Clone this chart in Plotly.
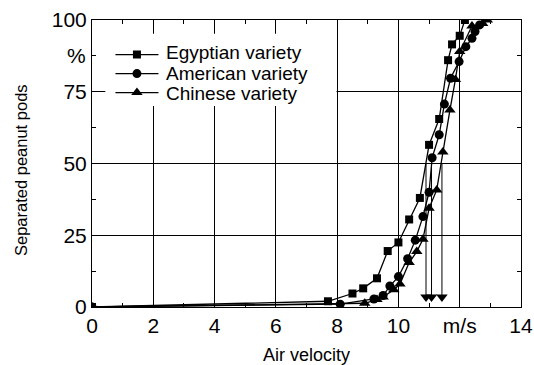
import plotly.graph_objects as go

# ---- data ----
egypt_x = [0, 7.7, 8.5, 8.85, 9.3, 9.65, 10.0, 10.35, 10.7, 11.0, 11.33, 11.62, 11.75, 12.0, 12.17]
egypt_y = [0, 2, 4.7, 6.5, 10, 19.5, 22.5, 30.5, 38, 56.5, 65.5, 86, 91.5, 94.5, 100]

amer_x = [0, 8.1, 9.2, 9.5, 9.72, 10.0, 10.3, 10.55, 10.8, 11.0, 11.1, 11.33, 11.5, 11.7, 11.98, 12.2, 12.4, 12.5, 12.65]
amer_y = [0, 1, 2.8, 4, 7.3, 10.6, 16.8, 23.3, 31.5, 40, 52, 60, 70.7, 79.7, 85.5, 90.7, 93.6, 96, 98.3]

chin_x = [0, 8.9, 9.3, 9.5, 9.85, 10.05, 10.35, 10.6, 10.8, 11.0, 11.25, 11.45, 11.68, 11.86, 12.0, 12.4, 12.75, 12.9]
chin_y = [0, 1.3, 2.6, 3.5, 6, 8, 15.5, 19.3, 23.6, 34.4, 40.8, 54, 68.6, 79.3, 89, 97.9, 98.8, 100]

series_names = ["Egyptian variety", "American variety", "Chinese variety"]

# velocities at 50 % separation (arrows)
median_x = [10.9, 11.08, 11.42]
median_level = 50
arrow_tip_y = 3.5

x_tickvals = [0, 2, 4, 6, 8, 10, 12, 14]
x_ticktext = ["0", "2", "4", "6", "8", "10", "m/s", "14"]
y_tickvals = [0, 25, 50, 75, 100]
y_ticktext = ["0", "25", "50", "75", "100"]
y_unit_pos = 87.5

FONT = "Liberation Sans, Arial, sans-serif"

fig = go.Figure()

symbols = ["square", "circle", "triangle-up"]
sizes = [8, 9, 10]
for xs, ys, name, sym, sz in zip([egypt_x, amer_x, chin_x], [egypt_y, amer_y, chin_y],
                                 series_names, symbols, sizes):
    fig.add_trace(go.Scatter(
        x=xs, y=ys, name=name, mode="lines+markers",
        line=dict(color="black", width=1.3),
        marker=dict(symbol=sym, size=sz, color="black"),
    ))

for mx in median_x:
    fig.add_trace(go.Scatter(
        x=[mx, mx], y=[median_level, arrow_tip_y], mode="lines",
        line=dict(color="black", width=1), showlegend=False, hoverinfo="skip"))
    fig.add_trace(go.Scatter(
        x=[mx], y=[arrow_tip_y], mode="markers",
        marker=dict(symbol="triangle-down", size=10, color="black"),
        showlegend=False, hoverinfo="skip"))

axis_common = dict(
    showline=True, linecolor="black", linewidth=1, mirror="allticks",
    ticks="inside", ticklen=5, tickcolor="black", tickwidth=1,
    showgrid=True, gridcolor="black", gridwidth=1, zeroline=False,
    tickfont=dict(family=FONT, size=21, color="black"), automargin=False,
)

fig.update_xaxes(
    range=[0, 14], tickmode="array", tickvals=x_tickvals, ticktext=x_ticktext,
    minor=dict(dtick=1, ticks="inside", ticklen=4, tickcolor="black", showgrid=False),
    title=dict(text="Air velocity", font=dict(family=FONT, size=18, color="black"), standoff=12),
    **axis_common)
fig.update_yaxes(
    range=[0, 100], tickmode="array", tickvals=y_tickvals, ticktext=y_ticktext,
    minor=dict(dtick=12.5, ticks="inside", ticklen=4, tickcolor="black", showgrid=False),
    **axis_common)

# y-axis title, placed like the original (slightly below the axis centre)
fig.add_annotation(xref="paper", yref="paper", x=0, y=0.4756, xanchor="center", yanchor="middle",
                   xshift=-71.5, textangle=-90, text="Separated peanut pods", showarrow=False,
                   font=dict(family=FONT, size=16.5, color="black"))

# white box behind the legend (hides grid lines like the original)
fig.add_shape(type="rect", xref="paper", yref="paper", x0=0.031, x1=0.570, y0=0.70, y1=0.952,
              fillcolor="white", line=dict(width=0), layer="above")

# legend symbols from the traces; texts as annotations for tight row spacing
fig.update_layout(
    legend=dict(x=0.043, y=0.93, xanchor="left", yanchor="top", bgcolor="rgba(0,0,0,0)",
                font=dict(size=1, color="rgba(0,0,0,0)"), itemwidth=43, borderwidth=0,
                tracegroupgap=0),
)
legend_text_y = [0.886, 0.815, 0.744]
for name, yy in zip(series_names, legend_text_y):
    fig.add_annotation(xref="paper", yref="paper", x=0.168, y=yy, xanchor="left", yanchor="middle",
                       text=name, showarrow=False, font=dict(family=FONT, size=19, color="black"))

# "%" unit label at the tick position
fig.add_annotation(xref="paper", yref="y", x=0, y=y_unit_pos, xanchor="right", yanchor="middle",
                   xshift=-4, text="%", showarrow=False, font=dict(family=FONT, size=21, color="black"))

fig.update_layout(
    width=534, height=365,
    margin=dict(l=91.5, r=12.5, t=20, b=58),
    paper_bgcolor="white", plot_bgcolor="white",
    font=dict(family=FONT, color="black"),
    showlegend=True,
)

# remove the page's default body margin so the 534x365 figure fills the window exactly
fig.write_html("out.html", config={"displayModeBar": False},
               post_script="document.body.style.margin='0px';")
